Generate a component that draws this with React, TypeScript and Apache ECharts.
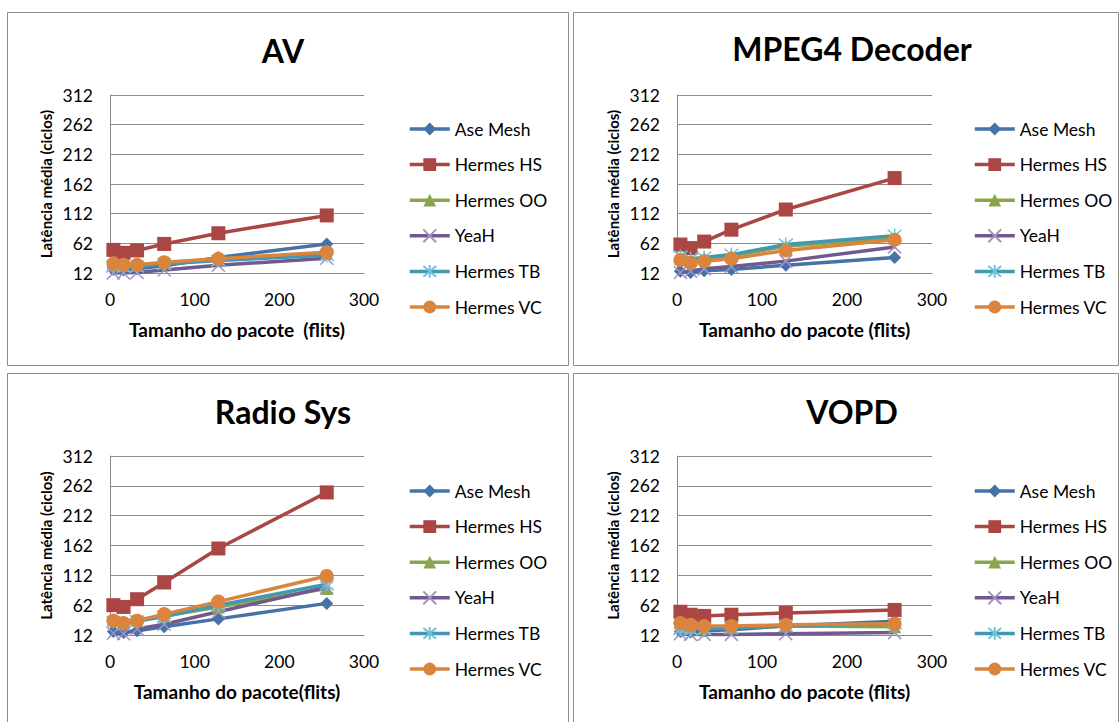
import React, { useEffect, useRef } from "react";
import * as echarts from "echarts";

// ---------- data ----------
const packetSizes = [4, 16, 32, 64, 128, 256];
const seriesNames = ["Ase Mesh", "Hermes HS", "Hermes OO", "YeaH", "Hermes TB", "Hermes VC"];
const panelTitles = ["AV", "MPEG4 Decoder", "Radio Sys", "VOPD"];
const xAxisTitles = [
  "Tamanho do pacote  (flits)",
  "Tamanho do pacote (flits)",
  "Tamanho do pacote(flits)",
  "Tamanho do pacote (flits)",
];
const yAxisTitle = "Latência média (ciclos)";
const yMin = 12;
const yMax = 312;
const yStep = 50;
const xMin = 0;
const xMax = 300;
const xStep = 100;

// AV
const avAseMesh = [18, 17, 19, 24, 38, 61];
const avHermesHS = [51, 46, 50, 61, 79, 109];
const avHermesOO = [26, 25, 25, 29, 35, 45];
const avYeaH = [12, 12, 13, 17, 25, 37];
const avHermesTB = [23, 22, 23, 27, 33, 42];
const avHermesVC = [28, 26, 26, 30, 36, 47];

// MPEG4 Decoder
const mpegAseMesh = [15, 13, 16, 18, 25, 38];
const mpegHermesHS = [60, 54, 65, 85, 119, 172];
const mpegHermesOO = [37, 34, 37, 41, 57, 71];
const mpegYeaH = [13, 15, 19, 23, 32, 56];
const mpegHermesTB = [40, 36, 38, 43, 60, 75];
const mpegHermesVC = [34, 29, 32, 36, 50, 68];

// Radio Sys
const radioAseMesh = [18, 16, 19, 26, 39, 65];
const radioHermesHS = [62, 59, 72, 100, 157, 251];
const radioHermesOO = [38, 33, 37, 44, 59, 90];
const radioYeaH = [15, 14, 22, 30, 51, 92];
const radioHermesTB = [34, 30, 35, 43, 62, 97];
const radioHermesVC = [36, 32, 36, 47, 68, 111];

// VOPD
const vopdAseMesh = [18, 17, 19, 21, 27, 35];
const vopdHermesHS = [51, 46, 44, 46, 49, 54];
const vopdHermesOO = [25, 24, 23, 24, 27, 26];
const vopdYeaH = [14, 13, 13, 13, 14, 16];
const vopdHermesTB = [22, 21, 22, 24, 27, 31];
const vopdHermesVC = [32, 29, 27, 27, 29, 31];

const panelData = [
  [avAseMesh, avHermesHS, avHermesOO, avYeaH, avHermesTB, avHermesVC],
  [mpegAseMesh, mpegHermesHS, mpegHermesOO, mpegYeaH, mpegHermesTB, mpegHermesVC],
  [radioAseMesh, radioHermesHS, radioHermesOO, radioYeaH, radioHermesTB, radioHermesVC],
  [vopdAseMesh, vopdHermesHS, vopdHermesOO, vopdYeaH, vopdHermesTB, vopdHermesVC],
];

// ---------- styles / layout ----------
const lineColors = ["#4572A7", "#AA4643", "#89A54E", "#71588F", "#4198AF", "#DB843D"];
const markerColors = ["#4572A7", "#AA4643", "#89A54E", "#A291C2", "#6FC2DA", "#DB843D"];
const X_PATH = "path://M0,0L10,10M10,0L0,10";
const STAR_PATH = "path://M0,0L10,10M10,0L0,10M5,-1L5,11";
const symbols = ["diamond", "rect", "triangle", X_PATH, STAR_PATH, "circle"];
const symbolSizes = [13, 14, 13, 13, 14, 14];

const FONT = "Lato, 'Noto Sans', sans-serif";

const PANELS = [
  { box: [7, 12, 561, 353], grid: [110, 95, 254, 178], title: [283, 50], legend: [403, 115] },
  { box: [573, 12, 545, 353], grid: [677, 95, 255, 178], title: [852, 48], legend: [968, 115] },
  { box: [7, 373, 561, 360], grid: [110, 456, 254, 179], title: [283, 411], legend: [403, 477] },
  { box: [573, 373, 545, 360], grid: [677, 456, 255, 179], title: [852, 411], legend: [968, 477] },
];

function buildOption() {
  const grids: any[] = [];
  const xAxes: any[] = [];
  const yAxes: any[] = [];
  const legends: any[] = [];
  const series: any[] = [];
  const graphics: any[] = [];

  PANELS.forEach((p, i) => {
    graphics.push({
      type: "rect",
      shape: { x: p.box[0] + 0.5, y: p.box[1] + 0.5, width: p.box[2], height: p.box[3] },
      style: { fill: "#ffffff", stroke: "#8C8C8C", lineWidth: 1 },
      z: -10,
      silent: true,
    });
    graphics.push({
      type: "text",
      x: p.title[0],
      y: p.title[1],
      style: {
        text: panelTitles[i],
        font: `bold 32px ${FONT}`,
        fill: "#000000",
        textAlign: "center",
        textVerticalAlign: "middle",
      },
      z: 10,
    });

    grids.push({ left: p.grid[0], top: p.grid[1], width: p.grid[2], height: p.grid[3], containLabel: false });
    xAxes.push({
      type: "value",
      gridIndex: i,
      min: xMin,
      max: xMax,
      interval: xStep,
      name: xAxisTitles[i],
      nameLocation: "middle",
      nameGap: 47,
      nameTextStyle: { fontFamily: FONT, fontWeight: "bold", fontSize: 19, color: "#000" },
      axisLine: { show: true, onZero: false, lineStyle: { color: "#888888", width: 1 } },
      axisTick: { show: false },
      splitLine: { show: false },
      axisLabel: { fontFamily: FONT, fontSize: 17.5, color: "#000", margin: 17 },
    });
    yAxes.push({
      type: "value",
      gridIndex: i,
      min: yMin,
      max: yMax,
      interval: yStep,
      name: yAxisTitle,
      nameLocation: "middle",
      nameRotate: 90,
      nameGap: 57,
      nameTextStyle: { fontFamily: FONT, fontWeight: "bold", fontSize: 15, color: "#000" },
      axisLine: { show: true, lineStyle: { color: "#888888", width: 1 } },
      axisTick: { show: false },
      splitLine: { show: true, lineStyle: { color: "#8C8C8C", width: 1 } },
      axisLabel: { fontFamily: FONT, fontSize: 17.5, color: "#000", margin: 17 },
    });
    legends.push({
      orient: "vertical",
      left: p.legend[0],
      top: p.legend[1],
      itemWidth: 40,
      itemHeight: 16,
      itemGap: 17.6,
      selectedMode: false,
      data: seriesNames,
      lineStyle: { width: 3.5 },
      textStyle: { fontFamily: FONT, fontSize: 17.5, color: "#000", lineHeight: 18 },
    });

    seriesNames.forEach((name, s) => {
      const isStroke = s === 3 || s === 4;
      series.push({
        type: "line",
        name,
        xAxisIndex: i,
        yAxisIndex: i,
        data: packetSizes.map((x, k) => [x, panelData[i][s][k]]),
        symbol: symbols[s],
        symbolSize: symbolSizes[s],
        showSymbol: true,
        lineStyle: { color: lineColors[s], width: 3.5 },
        itemStyle: isStroke
          ? { color: markerColors[s], borderColor: markerColors[s], borderWidth: 1.5 }
          : { color: markerColors[s], borderWidth: 0 },
        emphasis: { disabled: true },
        z: 2,
      });
    });
  });

  return {
    animation: false,
    backgroundColor: "#ffffff",
    textStyle: { fontFamily: FONT },
    grid: grids,
    xAxis: xAxes,
    yAxis: yAxes,
    legend: legends,
    series,
    graphic: graphics,
  };
}

export default function App() {
  const ref = useRef<HTMLDivElement>(null);
  useEffect(() => {
    if (!ref.current) return;
    const chart = echarts.init(ref.current, undefined, { renderer: "svg" });
    chart.setOption(buildOption() as any);
    return () => chart.dispose();
  }, []);
  return (
    <div
      ref={ref}
      style={{ position: "fixed", left: 0, top: 0, width: 1119, height: 722, background: "#fff" }}
    />
  );
}
